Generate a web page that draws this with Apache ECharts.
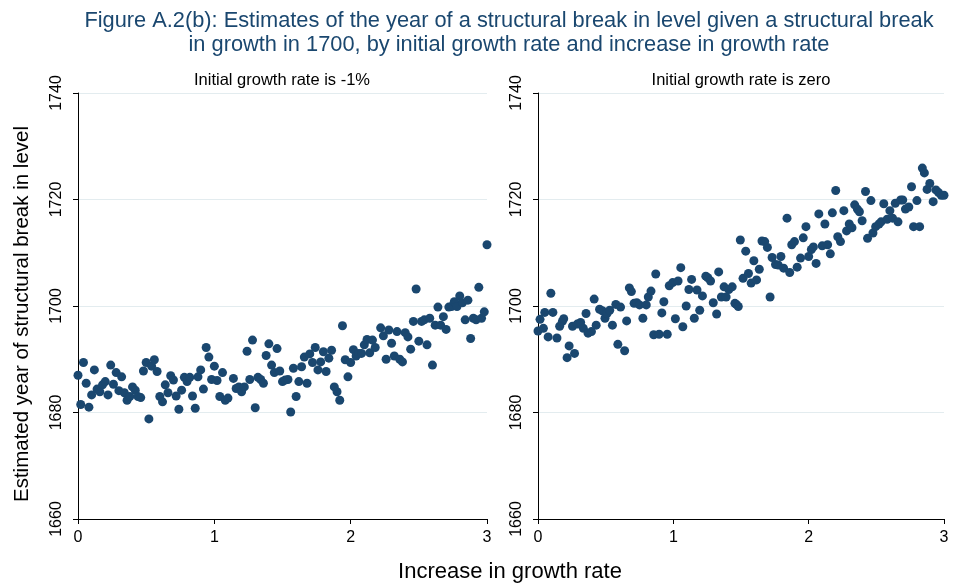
<!DOCTYPE html>
<html><head><meta charset="utf-8">
<script src="https://cdn.jsdelivr.net/npm/echarts@6/dist/echarts.min.js"></script>
<style>html,body{margin:0;padding:0;background:#fff}#c{width:955px;height:584px}</style>
</head><body><div id="c"></div><script>
const titleLines = ['Figure A.2(b): Estimates of the year of a structural break in level given a structural break', 'in growth in 1700, by initial growth rate and increase in growth rate'];
const panelTitles = ['Initial growth rate is -1%', 'Initial growth rate is zero'];
const yTitle = 'Estimated year of structural break in level';
const xTitle = 'Increase in growth rate';
const xTicks = [0, 1, 2, 3];
const yTicks = [1660, 1680, 1700, 1720, 1740];

const leftPoints = [
[0,1687.0],[0.02,1681.5],[0.04,1689.4],[0.06,1685.5],[0.08,1681.0],[0.10,1683.3],[0.12,1688.0],[0.14,1684.4],[0.16,1683.9],[0.18,1685.2],
[0.20,1685.8],[0.22,1683.3],[0.24,1688.9],[0.26,1685.3],[0.28,1687.5],[0.30,1684.1],[0.32,1686.7],[0.34,1683.7],[0.36,1682.3],[0.38,1683.0],
[0.40,1684.8],[0.42,1684.2],[0.44,1683.0],[0.46,1682.8],[0.48,1687.8],[0.50,1689.4],[0.52,1678.8],[0.54,1688.7],[0.56,1689.9],[0.58,1687.7],
[0.60,1683.0],[0.62,1682.0],[0.64,1685.2],[0.66,1683.7],[0.68,1686.9],[0.70,1686.1],[0.72,1683.1],[0.74,1680.6],[0.76,1684.2],[0.78,1686.6],
[0.80,1685.8],[0.82,1686.6],[0.84,1683.1],[0.86,1680.8],[0.88,1686.7],[0.90,1688.0],[0.92,1684.4],[0.94,1692.2],[0.96,1690.4],[0.98,1686.2],
[1.00,1688.7],[1.02,1686.0],[1.04,1683.0],[1.06,1687.5],[1.08,1682.3],[1.10,1682.7],
[1.14,1686.4],[1.16,1684.5],[1.18,1684.8],[1.20,1683.9],[1.22,1684.8],[1.24,1691.5],[1.26,1686.2],[1.28,1693.6],[1.30,1680.9],[1.32,1686.6],
[1.34,1686.2],[1.36,1685.5],[1.38,1690.7],[1.40,1692.9],[1.42,1688.9],[1.44,1687.5],[1.46,1692.0],[1.48,1687.8],[1.50,1685.8],[1.52,1686.1],
[1.54,1686.2],[1.56,1680.1],[1.58,1688.3],[1.60,1683.0],[1.62,1685.8],[1.64,1688.6],[1.66,1690.4],[1.68,1685.5],[1.70,1691.0],[1.72,1689.4],
[1.74,1692.2],[1.76,1688.0],[1.78,1689.5],[1.80,1691.4],[1.82,1687.7],[1.84,1690.2],[1.86,1691.7],[1.88,1684.8],[1.90,1683.9],[1.92,1682.3],
[1.94,1696.3],[1.96,1689.9],[1.98,1686.7],[2.00,1689.4],[2.02,1691.8],[2.04,1690.6],[2.06,1691.1],[2.08,1691.1],[2.10,1692.7],[2.12,1693.7],
[2.14,1691.2],[2.16,1693.6],[2.18,1692.2],
[2.22,1695.9],[2.24,1694.4],[2.26,1690.0],[2.28,1695.5],[2.30,1693.0],[2.32,1690.6],[2.34,1695.2],[2.36,1690.0],[2.38,1689.5],[2.40,1695.0],
[2.42,1694.2],[2.44,1691.9],[2.46,1697.1],[2.48,1703.2],[2.50,1693.4],[2.52,1697.1],[2.54,1697.4],[2.56,1692.7],[2.58,1697.7],[2.60,1688.9],
[2.62,1696.4],[2.64,1699.8],[2.66,1696.4],[2.68,1698.0],[2.70,1695.6],[2.72,1699.8],[2.74,1699.9],[2.76,1700.8],[2.77,1700.5],
[2.78,1699.9],[2.80,1701.9],[2.82,1700.6],[2.84,1697.4],[2.86,1701.1],[2.88,1693.9],[2.90,1697.7],[2.92,1697.4],[2.94,1703.5],[2.96,1697.7],
[2.98,1698.9],[3.00,1711.5]
];

const rightPoints = [
[0,1695.3],[0.015,1697.5],[0.04,1695.8],[0.05,1698.8],[0.075,1694.2],[0.095,1702.4],[0.11,1698.8],[0.14,1694.0],[0.16,1696.2],[0.18,1697.1],
[0.19,1697.6],[0.215,1690.3],[0.23,1692.5],[0.255,1696.2],[0.27,1691.1],[0.29,1696.6],[0.315,1696.9],[0.335,1695.8],[0.355,1698.6],[0.37,1694.9],
[0.395,1695.2],[0.415,1701.3],[0.43,1696.4],[0.455,1699.4],[0.475,1699.1],[0.495,1697.7],[0.51,1698.6],[0.53,1699.2],[0.55,1696.4],[0.575,1700.3],
[0.59,1692.8],[0.61,1699.8],[0.64,1691.6],[0.655,1697.2],[0.675,1703.4],[0.69,1702.7],[0.71,1700.5],[0.73,1700.6],[0.75,1700.2],[0.775,1697.7],
[0.80,1700.2],[0.815,1701.7],[0.835,1702.8],[0.855,1694.6],[0.87,1706.0],[0.895,1694.7],[0.915,1698.7],[0.93,1700.8],[0.955,1694.7],[0.97,1703.8],
[0.995,1704.4],[1.015,1697.6],[1.035,1704.7],[1.055,1707.2],[1.07,1696.1],[1.095,1700.0],[1.115,1703.1],[1.135,1705.0],[1.155,1697.7],[1.175,1703.0],
[1.195,1699.2],[1.215,1701.9],[1.24,1705.6],[1.255,1705.3],[1.275,1704.7],[1.295,1700.6],[1.32,1698.5],[1.335,1706.4],[1.355,1701.7],[1.375,1703.6],
[1.39,1701.7],[1.41,1703.1],[1.435,1703.6],[1.455,1700.5],[1.465,1700.3],[1.48,1699.9],[1.495,1712.4],[1.515,1705.2],[1.535,1710.3],[1.555,1706.1],
[1.575,1704.3],[1.595,1708.5],[1.615,1704.9],[1.635,1706.9],[1.655,1712.2],[1.675,1712.1],[1.695,1711.0],[1.715,1701.7],[1.73,1709.1],[1.755,1707.8],
[1.775,1707.7],[1.795,1709.3],[1.815,1707.1],[1.84,1716.5],[1.86,1706.3],[1.875,1711.5],[1.895,1712.1],[1.915,1707.3],[1.94,1709.0],[1.96,1712.8],
[1.98,1714.9],[2.0,1709.3],[2.02,1710.6],[2.035,1711.1],[2.055,1708.0],[2.075,1717.3],[2.10,1711.3],[2.12,1715.4],[2.14,1711.5],[2.16,1709.8],
[2.175,1717.5],[2.20,1721.7],[2.215,1713.0],[2.235,1712.1],[2.26,1717.9],[2.28,1714.1],[2.30,1715.4],[2.32,1714.7],[2.34,1719.0],[2.36,1718.2],
[2.375,1717.7],[2.395,1716.0],[2.42,1721.5],[2.435,1712.7],[2.46,1719.8],[2.475,1713.7],[2.495,1714.9],[2.52,1715.4],[2.535,1715.8],[2.555,1719.2],
[2.58,1716.3],[2.60,1717.9],[2.62,1716.5],[2.64,1719.3],[2.66,1715.8],[2.68,1719.9],[2.695,1719.9],[2.715,1718.2],[2.74,1718.6],[2.76,1722.4],
[2.775,1714.9],[2.80,1719.8],[2.82,1714.9],[2.84,1725.9],[2.855,1725.0],[2.875,1721.9],[2.895,1723.0],[2.92,1719.6],[2.94,1721.8],[2.96,1721.3],
[2.98,1720.8],[3.0,1720.8]
];

const FONT = "'Liberation Sans', Arial, sans-serif";
const NAVY = '#1a476f';
const GRID = '#e3ecef';

function xAx(i) {
  return {
    gridIndex: i, type: 'value', min: xTicks[0], max: xTicks[xTicks.length - 1], interval: 1,
    axisLine: { show: true, onZero: false, lineStyle: { color: '#000', width: 1 } },
    axisTick: { show: true, length: 5, lineStyle: { color: '#000' } },
    axisLabel: { color: '#000', fontSize: 16, fontFamily: FONT, margin: 11, formatter: v => String(v) },
    splitLine: { show: false }
  };
}
function yAx(i) {
  return {
    gridIndex: i, type: 'value', min: yTicks[0], max: yTicks[yTicks.length - 1], interval: 20,
    axisLine: { show: true, onZero: false, lineStyle: { color: '#000', width: 1 } },
    axisTick: { show: true, length: 5, lineStyle: { color: '#000' } },
    axisLabel: { color: '#000', fontSize: 16, fontFamily: FONT, rotate: 90, margin: 13, formatter: v => String(v) },
    splitLine: { show: true, lineStyle: { color: GRID, width: 1 } }
  };
}

const chart = echarts.init(document.getElementById('c'), null, { renderer: 'canvas' });
chart.setOption({
  backgroundColor: '#fff',
  animation: false,
  grid: [
    { left: 78, top: 93, width: 409, height: 426 },
    { left: 538, top: 93, width: 406, height: 426 }
  ],
  xAxis: [xAx(0), xAx(1)],
  yAxis: [yAx(0), yAx(1)],
  series: [
    { type: 'scatter', xAxisIndex: 0, yAxisIndex: 0, data: leftPoints, symbolSize: 9,
      itemStyle: { color: NAVY, opacity: 1 } },
    { type: 'scatter', xAxisIndex: 1, yAxisIndex: 1, data: rightPoints, symbolSize: 9,
      itemStyle: { color: NAVY, opacity: 1 } }
  ],
  graphic: [
    { type: 'text', x: 509, y: 21, style: { text: titleLines[0], font: '21.8px ' + FONT, fill: NAVY, align: 'center', verticalAlign: 'middle' } },
    { type: 'text', x: 509, y: 45, style: { text: titleLines[1], font: '21.8px ' + FONT, fill: NAVY, align: 'center', verticalAlign: 'middle' } },
    { type: 'text', x: 282, y: 80, style: { text: panelTitles[0], font: '16.5px ' + FONT, fill: '#000', align: 'center', verticalAlign: 'middle' } },
    { type: 'text', x: 741, y: 80, style: { text: panelTitles[1], font: '16.5px ' + FONT, fill: '#000', align: 'center', verticalAlign: 'middle' } },
    { type: 'text', x: 22, y: 314, rotation: Math.PI / 2, style: { text: yTitle, font: '20.5px ' + FONT, fill: '#000', align: 'center', verticalAlign: 'middle' } },
    { type: 'text', x: 510, y: 572, style: { text: xTitle, font: '22px ' + FONT, fill: '#000', align: 'center', verticalAlign: 'middle' } }
  ]
});
</script></body></html>
